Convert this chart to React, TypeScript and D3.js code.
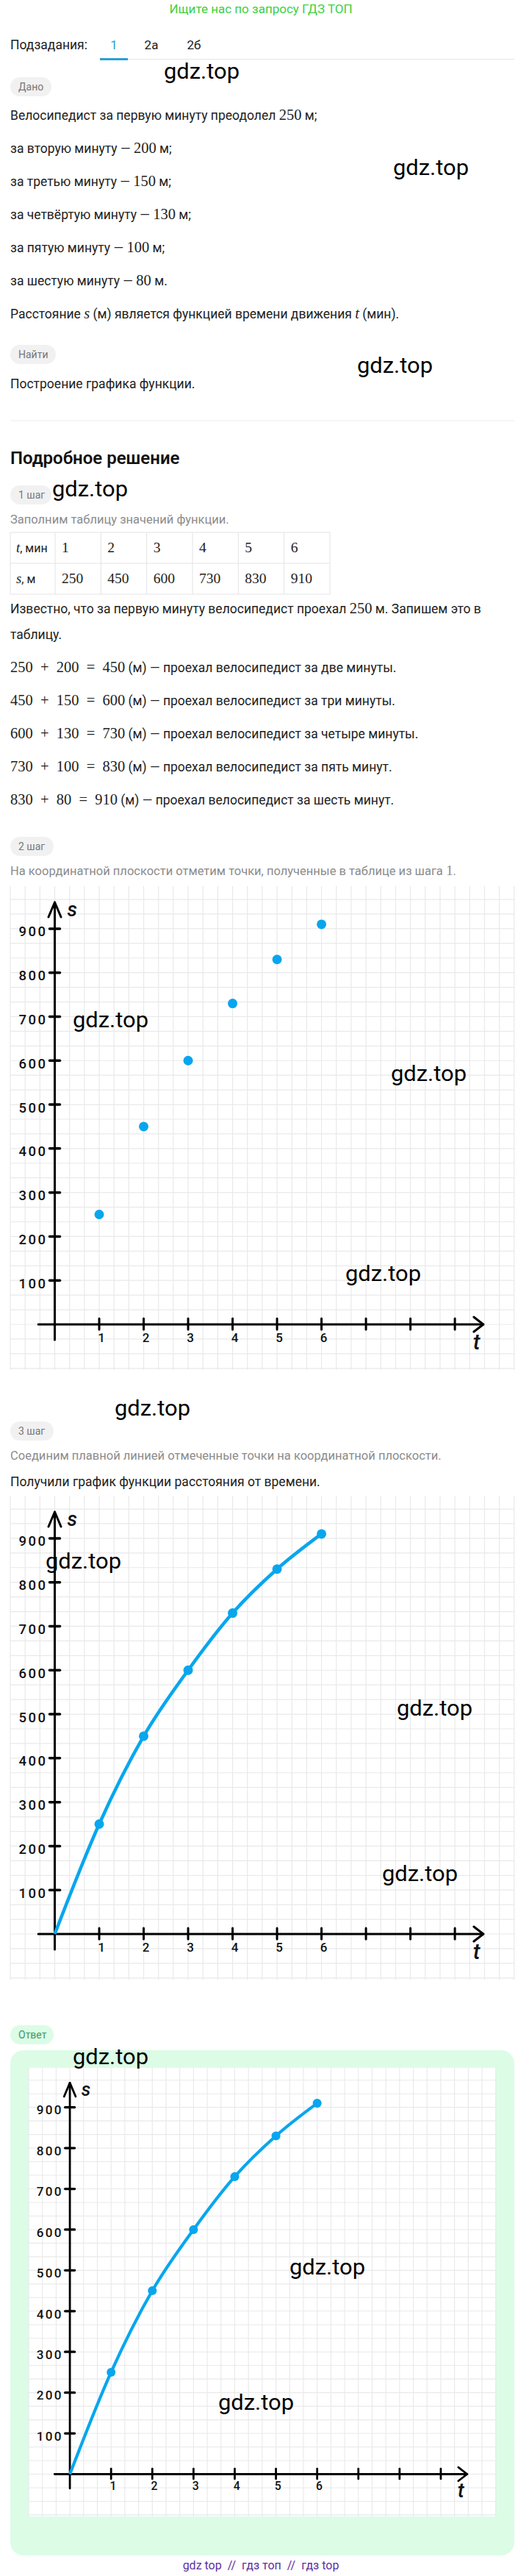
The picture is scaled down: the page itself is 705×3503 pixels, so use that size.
import React from "react";
import * as d3 from "d3";

// values from the problem
const minutes = [1, 2, 3, 4, 5, 6];
const increments = [250, 200, 150, 130, 100, 80];
const distances = [250, 450, 600, 730, 830, 910];
const ordinals = ["первую", "вторую", "третью", "четвёртую", "пятую", "шестую"];
const countWords = ["две минуты", "три минуты", "четыре минуты", "пять минут", "шесть минут"];
const sTicks = [100, 200, 300, 400, 500, 600, 700, 800, 900];
const tTicks = [1, 2, 3, 4, 5, 6, 7, 8, 9];
const tLabels = ["1", "2", "3", "4", "5", "6"];
const tabs = ["1", "2а", "2б"];

// watermark spots (left x, middle y)
const marks: [number, number][] = [
  [223, 97], [535, 228], [486, 497], [71, 665], [99, 1387], [532, 1460], [470, 1732],
  [156, 1915], [62, 2123], [540, 2323], [520, 2548], [99, 2797], [394, 3083], [297, 3267],
];

const SANS = "Roboto, 'Noto Sans', sans-serif";
const MATH = "'Liberation Serif', 'DejaVu Serif', serif";
const TEXT = "#222";
const GREY = "#8c8c8c";
const BLUE = "#08a6ee";

type Part = string | { m: string; it?: boolean };

// split a sentence so that numbers and formulas get the math font
function toParts(str: string): Part[] {
  const out: Part[] = [];
  str.split(/(\d+(?: [+=] \d+)*)/).forEach((s, i) => {
    if (!s) return;
    if (i % 2) out.push({ m: s.replace(/ ([+=]) /g, "\u2002$1\u2002") });
    else out.push(s);
  });
  return out;
}

function Rich({ x, y, parts, size = 17.5, color = TEXT }: { x: number; y: number; parts: Part[]; size?: number; color?: string }) {
  return (
    <text x={x} y={y + size * 0.36} fontSize={size} fill={color} style={{ whiteSpace: "pre" }}>
      {parts.map((p, i) =>
        typeof p === "string" ? (
          <tspan key={i}>{p}</tspan>
        ) : (
          <tspan key={i} fontFamily={MATH} fontSize={size * 1.17} fontStyle={p.it ? "italic" : "normal"}>
            {p.m}
          </tspan>
        )
      )}
    </text>
  );
}

function Badge({ x, y, w, label, bg = "#f1f1f1", color = "#777" }: { x: number; y: number; w: number; label: string; bg?: string; color?: string }) {
  return (
    <g>
      <rect x={x} y={y} width={w} height={26} rx={13} fill={bg} />
      <text x={x + 11} y={y + 18} fontSize={14} fill={color}>{label}</text>
    </g>
  );
}

const GRID_W = 686;
const GRID_H = 658;
const CX = 20.17;
const CY = 19.93;
const OX = 3 * CX;
const OY = 596;

function Chart({ x, y, k = 1, connect = false }: { x: number; y: number; k?: number; connect?: boolean }) {
  const xs = d3.scaleLinear().domain([0, 1]).range([OX, OX + 3 * CX]);
  const ys = d3.scaleLinear().domain([0, 100]).range([OY, OY - 3 * CY]);
  const vLines = d3.range(0, GRID_W + 0.5, CX);
  const hLines = d3.range(OY % CY, GRID_H, CY);
  const pts: [number, number][] = minutes.map((m, i) => [m, distances[i]]);
  const path = d3
    .line<[number, number]>()
    .x((d) => xs(d[0]))
    .y((d) => ys(d[1]))
    .curve(d3.curveMonotoneX)([[0, 0], ...pts]);
  const sTop = ys(960);
  const sBot = ys(-35);
  const tLeft = xs(-0.37);
  const tRight = xs(9.64);
  return (
    <g transform={`translate(${x},${y}) scale(${k})`}>
      <rect width={GRID_W} height={GRID_H} fill="#fff" />
      {vLines.map((v, i) => (
        <line key={"v" + i} x1={v} x2={v} y1={0} y2={GRID_H} stroke="#e9e9e9" strokeWidth={1.2} />
      ))}
      {hLines.map((h, i) => (
        <line key={"h" + i} x1={0} x2={GRID_W} y1={h} y2={h} stroke="#e9e9e9" strokeWidth={1.2} />
      ))}
      <g stroke="#000" strokeWidth={3} fill="none" strokeLinecap="round" strokeLinejoin="round">
        <line x1={OX} x2={OX} y1={sTop} y2={sBot} />
        <polyline points={`${OX - 8.5},${sTop + 20} ${OX},${sTop} ${OX + 8.5},${sTop + 20}`} />
        <line x1={tLeft} x2={tRight} y1={OY} y2={OY} />
        <polyline points={`${tRight - 13},${OY - 10} ${tRight},${OY} ${tRight - 13},${OY + 10}`} />
        {sTicks.map((v) => (
          <line key={v} x1={OX - 7} x2={OX + 7} y1={ys(v)} y2={ys(v)} strokeWidth={3.5} />
        ))}
        {tTicks.map((v) => (
          <line key={v} x1={xs(v)} x2={xs(v)} y1={OY - 8} y2={OY + 7} />
        ))}
      </g>
      <g fontFamily={SANS} fontWeight={500} fill="#111">
        {sTicks.map((v) => (
          <text key={v} x={OX - 10} y={ys(v) + 10.5} fontSize={18.5} textAnchor="end" letterSpacing={2.5}>{v}</text>
        ))}
        {tLabels.map((l, i) => (
          <text key={l} x={xs(i + 1) + 3} y={OY + 23.5} fontSize={17} textAnchor="middle">{l}</text>
        ))}
      </g>
      <text x={OX + 17} y={41} fontFamily={SANS} fontStyle="italic" fontWeight={500} fontSize={27} fill="#111">s</text>
      <text x={tRight - 14} y={OY + 34} fontFamily={SANS} fontStyle="italic" fontWeight={500} fontSize={30} fill="#111">t</text>
      {connect && <path d={path || ""} fill="none" stroke={BLUE} strokeWidth={4.5} strokeLinejoin="round" />}
      {pts.map((d) => (
        <circle key={d[0]} cx={xs(d[0])} cy={ys(d[1])} r={6.5} fill={BLUE} />
      ))}
    </g>
  );
}

export default function App() {
  const given: Part[][] = ordinals.map((o, i) =>
    toParts(
      i === 0
        ? `Велосипедист за ${o} минуту преодолел ${increments[i]} м;`
        : `за ${o} минуту — ${increments[i]} м${i === ordinals.length - 1 ? "." : ";"}`
    )
  );
  const sums = countWords.map((w, i) =>
    toParts(`${distances[i]} + ${increments[i + 1]} = ${distances[i + 1]} (м) — проехал велосипедист за ${w}.`)
  );
  const colX = d3.scaleBand<number>().domain(minutes).range([75, 449]);
  const tableRows = [
    { head: [{ m: "t", it: true }, ", мин"] as Part[], vals: minutes },
    { head: [{ m: "s", it: true }, ", м"] as Part[], vals: distances },
  ];

  return (
    <svg
      width={705}
      height={3503}
      style={{ position: "absolute", left: 0, top: 0, background: "#fff" }}
      fontFamily={SANS}
    >
      <text x={355} y={18} textAnchor="middle" fontSize={17} fill="#3fcf45">Ищите нас по запросу ГДЗ ТОП</text>

      <text x={14} y={67} fontSize={17.5} fill={TEXT}>Подзадания:</text>
      {tabs.map((t, i) => (
        <text key={t} x={[155, 206, 264][i]} y={67} fontSize={17} textAnchor="middle" fill={i === 0 ? "#2a9fd6" : TEXT}>{t}</text>
      ))}
      <line x1={136} x2={700} y1={80.5} y2={80.5} stroke="#e6e6e6" strokeWidth={1} />
      <rect x={136} y={79} width={38} height={3} fill="#2a9fd6" />

      <Badge x={14} y={105} w={56} label="Дано" />
      {given.map((p, i) => (
        <Rich key={i} x={14} y={157 + i * 45} parts={p} />
      ))}
      <Rich
        x={14}
        y={427}
        parts={["Расстояние ", { m: "s", it: true }, " (м) является функцией времени движения ", { m: "t", it: true }, " (мин)."]}
      />
      <Badge x={14} y={469} w={62} label="Найти" />
      <Rich x={14} y={522} parts={["Построение графика функции."]} />
      <line x1={14} x2={700} y1={572} y2={572} stroke="#ebebeb" />

      <text x={14} y={631} fontSize={24} fontWeight={600} fill="#111">Подробное решение</text>

      <Badge x={14} y={660} w={56} label="1 шаг" />
      <Rich x={14} y={706} parts={["Заполним таблицу значений функции."]} size={16.5} color={GREY} />
      <g stroke="#e3e3e3" fill="none">
        <rect x={14} y={724} width={435} height={84} />
        <line x1={14} x2={449} y1={766} y2={766} />
        {minutes.map((m) => (
          <line key={m} x1={colX(m)} x2={colX(m)} y1={724} y2={808} />
        ))}
      </g>
      {tableRows.map((r, ri) => (
        <g key={ri}>
          <Rich x={22} y={745 + ri * 42} parts={r.head} size={16} />
          {r.vals.map((v, i) => (
            <Rich key={i} x={(colX(minutes[i]) || 0) + 9} y={745 + ri * 42} parts={[{ m: String(v) }]} size={16.7} />
          ))}
        </g>
      ))}
      <Rich x={14} y={828} parts={toParts("Известно, что за первую минуту велосипедист проехал 250 м. Запишем это в")} />
      <Rich x={14} y={863} parts={["таблицу."]} />
      {sums.map((p, i) => (
        <Rich key={i} x={14} y={908 + i * 45} parts={p} />
      ))}

      <Badge x={14} y={1138} w={59} label="2 шаг" />
      <Rich x={14} y={1184} parts={toParts("На координатной плоскости отметим точки, полученные в таблице из шага 1.")} size={16.5} color={GREY} />
      <Chart x={14} y={1205} />

      <Badge x={14} y={1933} w={59} label="3 шаг" />
      <Rich x={14} y={1979} parts={["Соединим плавной линией отмеченные точки на координатной плоскости."]} size={16.5} color={GREY} />
      <Rich x={14} y={2015} parts={["Получили график функции расстояния от времени."]} />
      <Chart x={14} y={2034} connect />

      <Badge x={14} y={2754} w={59} label="Ответ" bg="#dcfce6" color="#3f9a5c" />
      <rect x={14} y={2788} width={686} height={687} rx={18} fill="#dcfce6" />
      <Chart x={39} y={2812} k={0.927} connect />

      <text x={355} y={3494} textAnchor="middle" fontSize={16} fill="#5e2fa0" style={{ whiteSpace: "pre" }}>
        gdz top  //  гдз топ  //  гдз top
      </text>

      {marks.map(([mx, my], i) => (
        <text
          key={i}
          x={mx}
          y={my + 10}
          fontFamily={SANS}
          fontSize={29}
          textLength={103}
          lengthAdjust="spacingAndGlyphs"
          fill="#000"
        >
          gdz.top
        </text>
      ))}
    </svg>
  );
}
